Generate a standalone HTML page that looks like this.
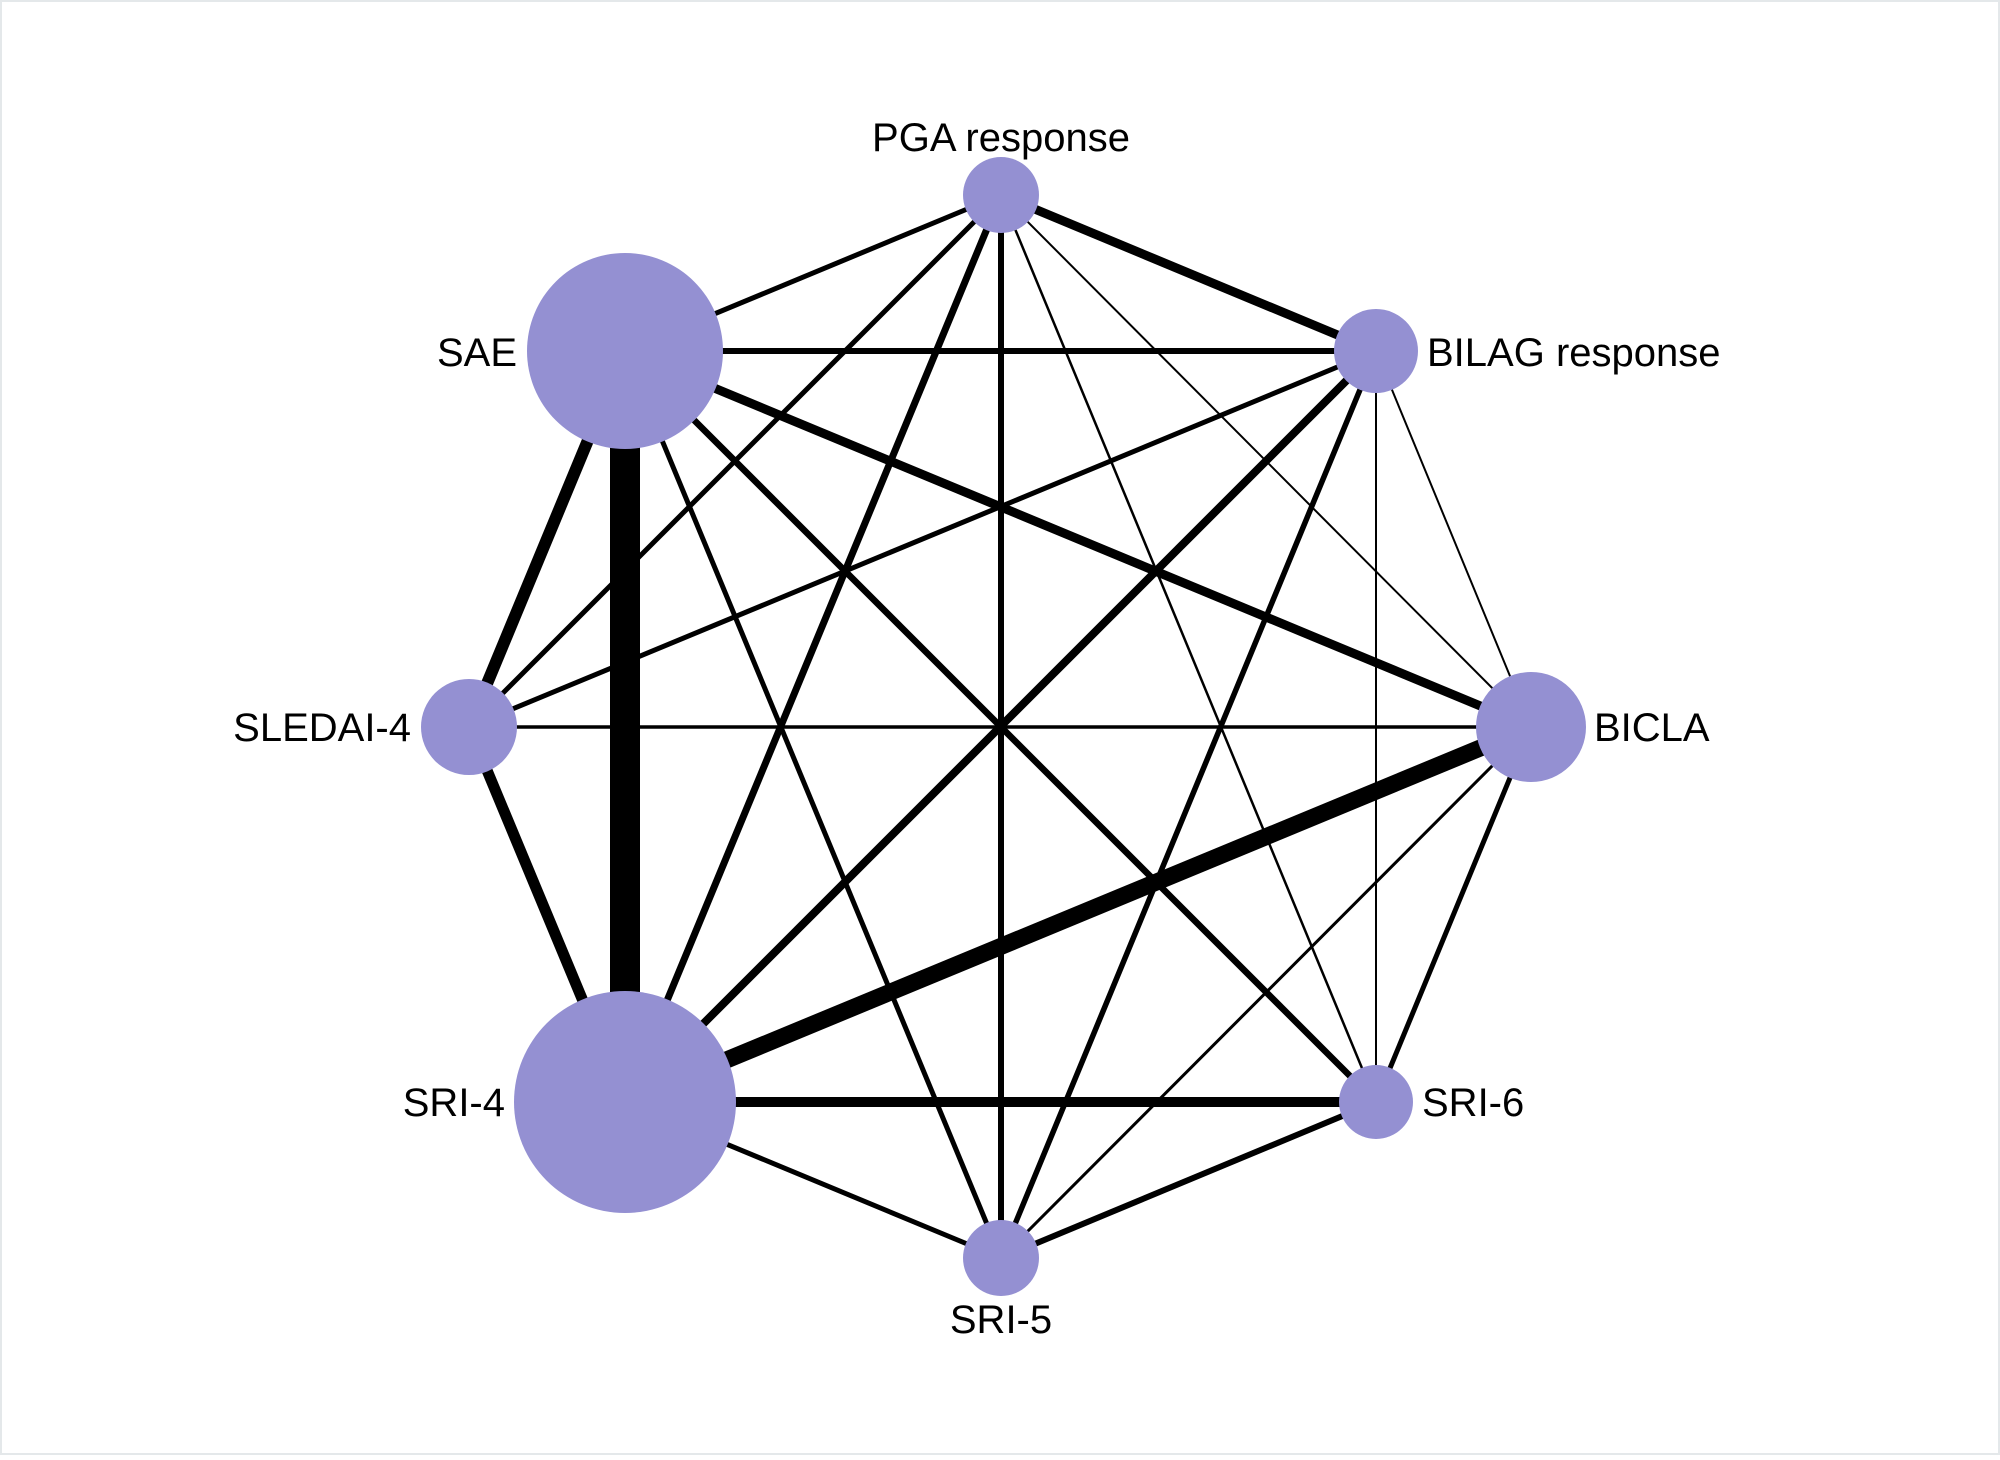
<!DOCTYPE html>
<html><head><meta charset="utf-8"><style>html,body{margin:0;padding:0;background:#fff}</style></head>
<body>
<svg width="2000" height="1455" viewBox="0 0 2000 1455" xmlns="http://www.w3.org/2000/svg">
<rect x="1" y="1" width="1998" height="1453" fill="#fff" stroke="#e4e8ea" stroke-width="2"/>
<g stroke="#000" stroke-linecap="butt">
<line x1="1001" y1="195" x2="1376" y2="351" stroke-width="9"/>
<line x1="1001" y1="195" x2="625" y2="351" stroke-width="5"/>
<line x1="1001" y1="195" x2="469" y2="727" stroke-width="5"/>
<line x1="1001" y1="195" x2="625" y2="1102" stroke-width="7"/>
<line x1="1001" y1="195" x2="1001" y2="1258" stroke-width="6"/>
<line x1="1001" y1="195" x2="1376" y2="1102" stroke-width="2.5"/>
<line x1="1001" y1="195" x2="1531" y2="727" stroke-width="2"/>
<line x1="625" y1="351" x2="1376" y2="351" stroke-width="6"/>
<line x1="625" y1="351" x2="1531" y2="727" stroke-width="9"/>
<line x1="625" y1="351" x2="469" y2="727" stroke-width="12"/>
<line x1="625" y1="351" x2="625" y2="1102" stroke-width="30"/>
<line x1="625" y1="351" x2="1001" y2="1258" stroke-width="5"/>
<line x1="625" y1="351" x2="1376" y2="1102" stroke-width="6.5"/>
<line x1="1376" y1="351" x2="469" y2="727" stroke-width="5"/>
<line x1="1376" y1="351" x2="625" y2="1102" stroke-width="8"/>
<line x1="1376" y1="351" x2="1001" y2="1258" stroke-width="5.5"/>
<line x1="1376" y1="351" x2="1376" y2="1102" stroke-width="2"/>
<line x1="1376" y1="351" x2="1531" y2="727" stroke-width="2"/>
<line x1="1531" y1="727" x2="469" y2="727" stroke-width="3.5"/>
<line x1="1531" y1="727" x2="625" y2="1102" stroke-width="17"/>
<line x1="1531" y1="727" x2="1001" y2="1258" stroke-width="3"/>
<line x1="1531" y1="727" x2="1376" y2="1102" stroke-width="5"/>
<line x1="1376" y1="1102" x2="625" y2="1102" stroke-width="10"/>
<line x1="1376" y1="1102" x2="1001" y2="1258" stroke-width="6"/>
<line x1="625" y1="1102" x2="1001" y2="1258" stroke-width="5"/>
<line x1="469" y1="727" x2="625" y2="1102" stroke-width="11"/>
</g>
<g fill="#9490d2">
<circle cx="1001" cy="195" r="38"/>
<circle cx="1376" cy="351" r="42"/>
<circle cx="1531" cy="727" r="55"/>
<circle cx="1376" cy="1102" r="37"/>
<circle cx="1001" cy="1258" r="38"/>
<circle cx="625" cy="1102" r="111"/>
<circle cx="469" cy="727" r="48"/>
<circle cx="625" cy="351" r="98"/>
</g>
<g font-family="Liberation Sans, Arial, sans-serif" font-size="40" fill="#000">
<text x="1001" y="151" text-anchor="middle">PGA response</text>
<text x="517" y="366" text-anchor="end">SAE</text>
<text x="1427" y="366">BILAG response</text>
<text x="1594" y="741">BICLA</text>
<text x="411" y="741" text-anchor="end">SLEDAI-4</text>
<text x="505" y="1116" text-anchor="end">SRI-4</text>
<text x="1422" y="1116">SRI-6</text>
<text x="1001" y="1333" text-anchor="middle">SRI-5</text>
</g>
</svg>
</body></html>
